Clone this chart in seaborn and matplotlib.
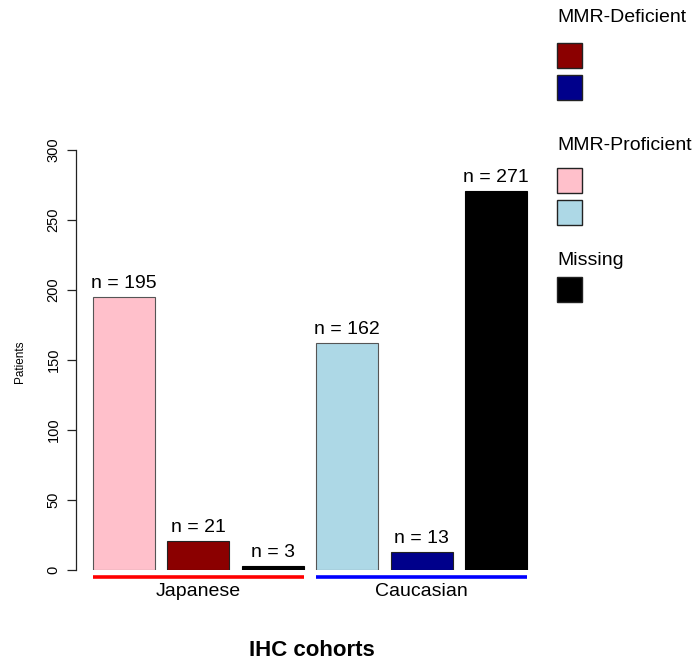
import matplotlib
matplotlib.use("Agg")
import matplotlib.pyplot as plt
import seaborn as sns
import pandas as pd
from matplotlib.patches import Rectangle

sns.set_style("white")
plt.rcParams['font.family'] = ['Liberation Sans', 'DejaVu Sans']
plt.rcParams['text.color'] = 'black'
plt.rcParams['ytick.color'] = 'black'
plt.rcParams['axes.labelcolor'] = 'black'

# ---- data ----
cohorts = ["Japanese", "Japanese", "Japanese", "Caucasian", "Caucasian", "Caucasian"]
status = ["Proficient", "Deficient", "Missing", "Proficient", "Deficient", "Missing"]
patients = [195, 21, 3, 162, 13, 271]
bar_colors = ["#FFC0CB", "#8B0000", "#000000", "#ADD8E6", "#00008B", "#000000"]
edge_colors = ["#555555", "#222222", "#000000", "#555555", "#222222", "#000000"]
group_names = ["Japanese", "Caucasian"]
group_line_colors = ["#FF0000", "#0000FF"]
legend_titles = ["MMR-Deficient", "MMR-Proficient", "Missing"]
legend_colors = [["#8B0000", "#00008B"], ["#FFC0CB", "#ADD8E6"], ["#000000"]]
yticks = [0, 50, 100, 150, 200, 250, 300]

keys = [f"{c}-{s}" for c, s in zip(cohorts, status)]
df = pd.DataFrame({"key": keys, "patients": patients})

W, H = 694, 663
fig = plt.figure(figsize=(W / 100, H / 100), dpi=100)
ax = fig.add_axes([76 / W, (H - 570) / H, (539.4 - 76) / W, 420 / H])

sns.barplot(data=df, x="key", y="patients", hue="key", palette=bar_colors,
            order=keys, hue_order=keys, width=1 / 1.2, legend=False, ax=ax,
            saturation=1)
for p, ec in zip(ax.patches, edge_colors):
    p.set_edgecolor(ec)
    p.set_linewidth(0.8)

ax.set_xlim(-0.645, 5.583)
ax.set_ylim(0, 300)
for s in ["top", "right", "bottom"]:
    ax.spines[s].set_visible(False)
ax.spines["left"].set_color("#222222")
ax.spines["left"].set_linewidth(0.9)
ax.set_xticks([])
ax.set_xlabel("")
ax.set_ylabel("")
ax.set_yticks(yticks)
ax.set_yticklabels([str(v) for v in yticks], rotation=90, va="center", fontsize=10.5)
ax.tick_params(axis="y", direction="out", length=6.5, width=0.9, pad=4.5,
               color="#222222", labelcolor="black", left=True)

# value labels
for i, v in enumerate(patients):
    ax.annotate(f"n = {v}", (i, v), xytext=(0, 6.5), textcoords="offset points",
                ha="center", va="baseline", fontsize=14, color="black")

# group underlines and labels
hw = 0.5 / 1.2
for g, (name, col) in enumerate(zip(group_names, group_line_colors)):
    x0 = g * 3 - hw
    x1 = g * 3 + 2 + hw
    ax.plot([x0, x1], [-5, -5], color=col, lw=2.6, clip_on=False, solid_capstyle="butt")
    ax.text(g * 3 + 1, -15, name, ha="center", va="center", fontsize=14,
            color="black", clip_on=False)

fig.text(312 / W, 1 - 650 / H, "IHC cohorts", ha="center", va="center",
         fontsize=16, fontweight="bold", color="black")
fig.text(20 / W, 1 - 362 / H, "Patients", ha="center", va="center",
         rotation=90, fontsize=8.5, color="black")

# legend drawn manually
title_y = [18, 145, 261]
box_y = [[43, 75], [168, 200], [277]]
for t, ty, cols, bys in zip(legend_titles, title_y, legend_colors, box_y):
    fig.text(557 / W, 1 - ty / H, t, ha="left", va="center", fontsize=14, color="black")
    for c, by in zip(cols, bys):
        fig.add_artist(Rectangle((557 / W, 1 - (by + 25) / H), 25 / W, 25 / H,
                                 facecolor=c, edgecolor="#222222", lw=1.0,
                                 transform=fig.transFigure))

fig.savefig("out.png", dpi=100)
